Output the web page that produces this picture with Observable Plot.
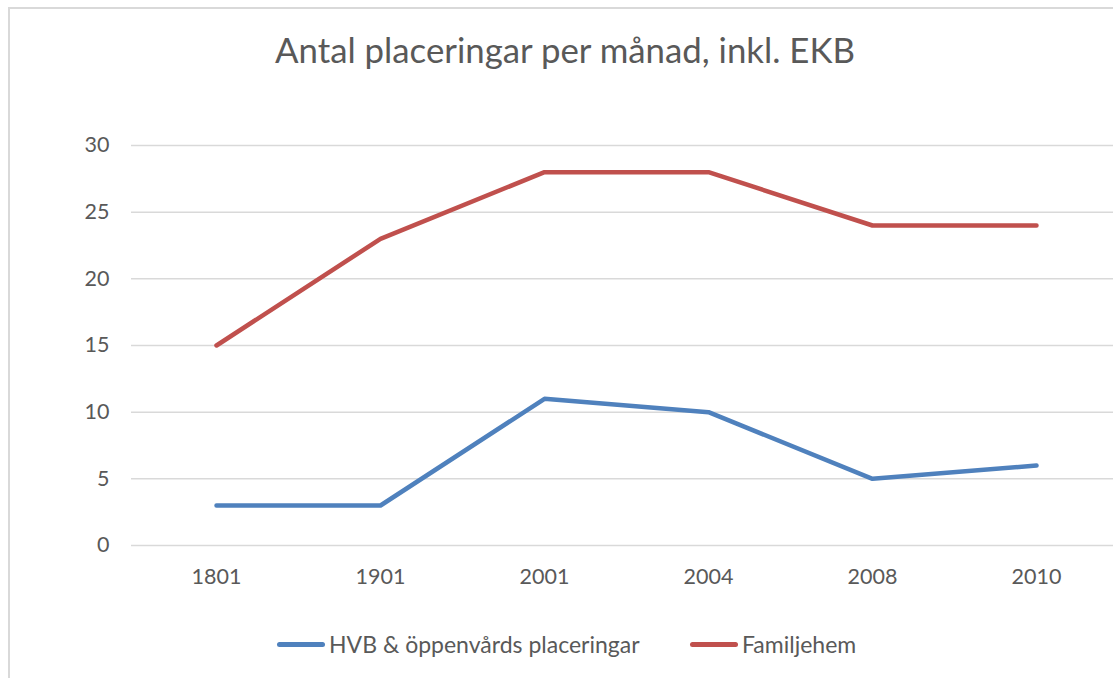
<!DOCTYPE html>
<html>
<head>
<meta charset="utf-8">
<script src="https://cdn.jsdelivr.net/npm/d3@7"></script>
<script src="https://cdn.jsdelivr.net/npm/@observablehq/plot@0.6"></script>
<style>
  html, body { margin: 0; padding: 0; background: #fff; }
  #page { position: relative; width: 1113px; height: 678px; overflow: hidden; font-family: Lato, "Open Sans", sans-serif; }
  #frame { position: absolute; left: 8px; top: 7px; width: 1200px; height: 800px; border: 2px solid #d9d9d9; box-sizing: border-box; }
  #title { position: absolute; left: 0; width: 1130px; top: 29px; text-align: center; font-size: 34.8px; color: #595959; white-space: nowrap; }
  #chart { position: absolute; left: 0; top: 0; width: 1130px; }
  #chart svg { max-width: none !important; }
  #legend { position: absolute; top: 630px; left: 0; font-size: 23px; color: #595959; white-space: nowrap; }
  .item { position: absolute; top: 0; display: flex; align-items: center; }
  .swatch { width: 48px; height: 5px; border-radius: 3px; margin-right: 4px; }
</style>
</head>
<body>
<div id="page">
  <div id="frame"></div>
  <div id="title">Antal placeringar per månad, inkl. EKB</div>
  <div id="chart"></div>
  <div id="legend"></div>
</div>
<script>
const categories = ["1801", "1901", "2001", "2004", "2008", "2010"];
const seriesNames = ["HVB & öppenvårds placeringar", "Familjehem"];
const hvbValues = [3, 3, 11, 10, 5, 6];
const familjehemValues = [15, 23, 28, 28, 24, 24];
const yTicks = [0, 5, 10, 15, 20, 25, 30];
const colors = ["#4f81bd", "#c0504d"];

const data = [];
categories.forEach((c, i) => {
  data.push({cat: c, value: hvbValues[i], series: seriesNames[0]});
  data.push({cat: c, value: familjehemValues[i], series: seriesNames[1]});
});

const plot = Plot.plot({
  width: 1130,
  height: 600,
  marginLeft: 131,
  marginRight: 10,
  marginTop: 145,
  marginBottom: 55,
  style: {fontFamily: "Lato, 'Open Sans', sans-serif", fontSize: "21.5px", color: "#595959", background: "transparent", overflow: "visible", maxWidth: "none"},
  x: {type: "point", domain: categories, padding: 0.5, label: null},
  y: {domain: [0, 30], ticks: yTicks, label: null},
  color: {domain: seriesNames, range: colors},
  marks: [
    Plot.ruleY(yTicks, {stroke: "#d9d9d9", strokeWidth: 1.5}),
    Plot.axisY({ticks: yTicks, tickSize: 0, tickPadding: 22, label: null, fontSize: 21.5}),
    Plot.axisX({tickSize: 0, tickPadding: 23, label: null, fontSize: 21.5}),
    Plot.line(data, {x: "cat", y: "value", z: "series", stroke: "series", strokeWidth: 4.5, strokeLinecap: "round", strokeLinejoin: "round"})
  ]
});
document.getElementById("chart").appendChild(plot);

const legend = document.getElementById("legend");
const offsets = [277, 690];
seriesNames.forEach((name, i) => {
  const item = document.createElement("div");
  item.className = "item";
  item.style.left = offsets[i] + "px";
  const sw = document.createElement("div");
  sw.className = "swatch";
  sw.style.background = colors[i];
  const tx = document.createElement("span");
  tx.textContent = name;
  item.appendChild(sw);
  item.appendChild(tx);
  legend.appendChild(item);
});
</script>
</body>
</html>
